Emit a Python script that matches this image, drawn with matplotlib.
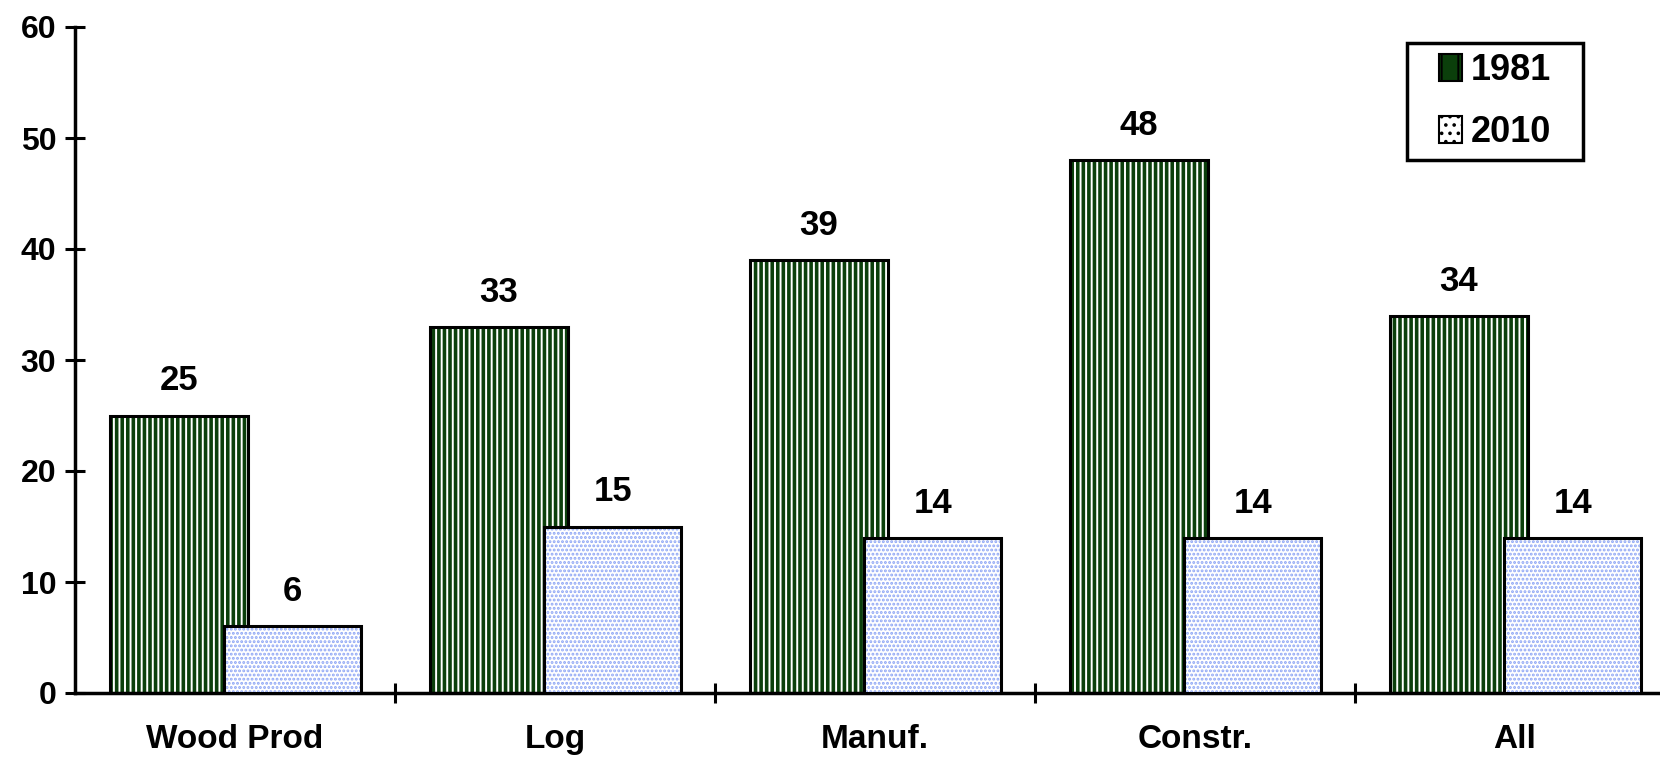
import matplotlib
matplotlib.use("Agg")
import matplotlib.pyplot as plt
from matplotlib.patches import Rectangle
import numpy as np

categories = ["Wood Prod", "Log", "Manuf.", "Constr.", "All"]
series_names = ["1981", "2010"]
values_1981 = [25, 33, 39, 48, 34]
values_2010 = [6, 15, 14, 14, 14]
y_ticks = [0, 10, 20, 30, 40, 50, 60]

plt.rcParams['font.family'] = ['Liberation Sans', 'DejaVu Sans']
plt.rcParams['font.weight'] = 'bold'
plt.rcParams['hatch.linewidth'] = 1.4

W, H = 1660, 757
fig = plt.figure(figsize=(W / 100, H / 100), dpi=100)
ax = fig.add_axes([75 / W, (H - 693) / H, 1600 / W, 666 / H])

x = np.arange(len(categories))
bw = 0.43
off1, off2 = -0.175, 0.18

green = "#0b3f0b"
dotc = "#8ea6f5"
# 1981 bars: dark green with white stripes
ax.bar(x + off1, values_1981, bw, color=green, edgecolor="white",
       hatch="|||", linewidth=0, zorder=2)
ax.bar(x + off1, values_1981, bw, facecolor="none", edgecolor="black",
       linewidth=2.2, zorder=3)
# 2010 bars: white with light blue dots
ax.bar(x + off2, values_2010, bw, color="white", edgecolor=dotc,
       hatch="....", linewidth=0, zorder=4)
ax.bar(x + off2, values_2010, bw, facecolor="none", edgecolor="black",
       linewidth=2.2, zorder=5)

for xi, v in zip(x + off1, values_1981):
    ax.annotate(str(v), (xi, v), xytext=(0, 13), textcoords="offset points",
                ha="center", va="bottom", fontsize=25, fontweight="bold", zorder=6)
for xi, v in zip(x + off2, values_2010):
    ax.annotate(str(v), (xi, v), xytext=(0, 13), textcoords="offset points",
                ha="center", va="bottom", fontsize=25, fontweight="bold", zorder=6)

ax.set_xlim(-0.5, len(categories) - 0.5)
ax.set_ylim(0, 60)
ax.set_yticks(y_ticks)
ax.set_yticklabels([str(t) for t in y_ticks], fontsize=23, fontweight="bold")

ax.set_xticks(np.arange(len(categories)) + 0.5)
ax.set_xticklabels([])
ax.set_xticks(x, minor=True)
ax.set_xticklabels(categories, minor=True, fontsize=24, fontweight="bold")
ax.tick_params(axis="x", which="minor", length=0, pad=22)
ax.tick_params(axis="x", which="major", direction="inout", length=15, width=2.2)
ax.tick_params(axis="y", direction="inout", length=15, width=2.2, pad=6)

for s in ["top", "right"]:
    ax.spines[s].set_visible(False)
for s in ["left", "bottom"]:
    ax.spines[s].set_linewidth(2.5)

# legend frame drawn as a figure rectangle
bx0, by0, bx1, by1 = 1407, 43, 1583, 160
fig.patches.append(Rectangle((bx0 / W, 1 - by1 / H), (bx1 - bx0) / W, (by1 - by0) / H,
                             transform=fig.transFigure, fill=False,
                             edgecolor="black", linewidth=2.5, zorder=10))

h1 = plt.Rectangle((0, 0), 1, 1, facecolor=green, edgecolor="white", hatch="|", linewidth=0)
h2 = plt.Rectangle((0, 0), 1, 1, facecolor="white", edgecolor="#a9bcf7", hatch="..", linewidth=0)
leg = fig.legend([h1, h2], series_names, loc="center",
                 bbox_to_anchor=((bx0 + bx1) / 2 / W, 1 - (by0 + by1) / 2 / H),
                 bbox_transform=fig.transFigure,
                 borderaxespad=0, frameon=False,
                 handlelength=0.65, handleheight=0.8, handletextpad=0.25,
                 labelspacing=0.75, borderpad=0.0, prop={"weight": "bold", "size": 26})
for p in leg.get_patches():
    p.set_edgecolor("black")
    p.set_linewidth(1.5)

fig.savefig("out.png", dpi=100)
